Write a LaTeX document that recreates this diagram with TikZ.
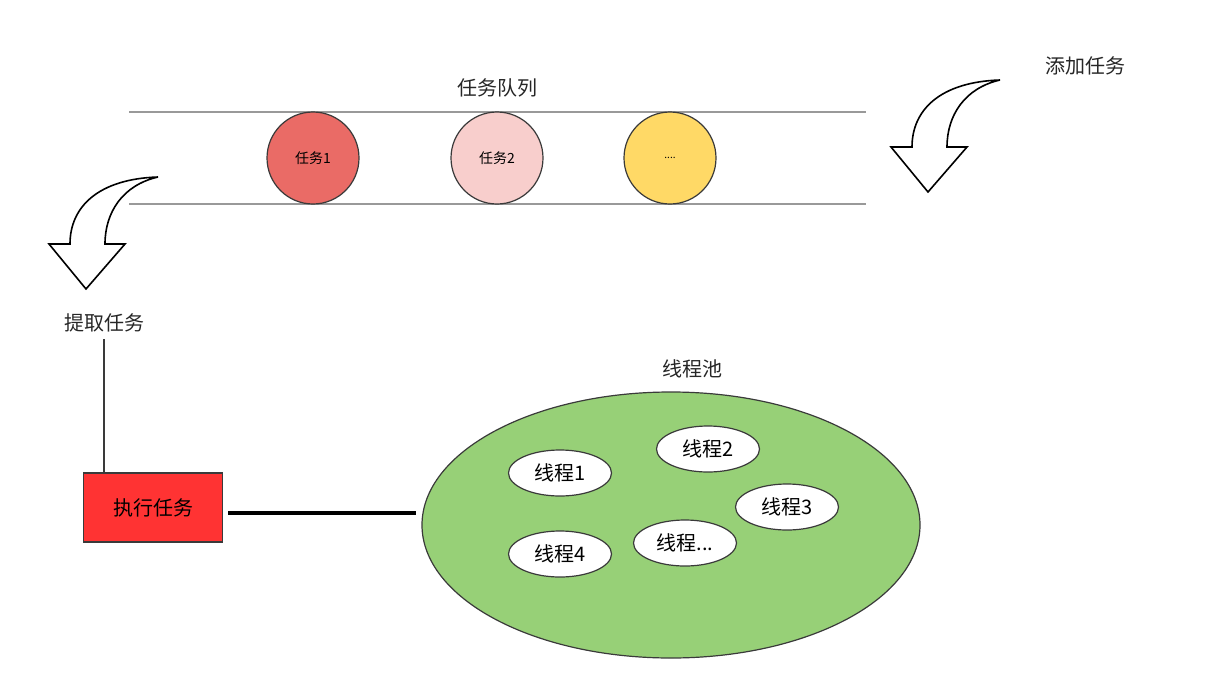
\documentclass[tikz,border=0pt]{standalone}
\usepackage{fontspec}
\setmainfont{Noto Sans CJK SC}
\usetikzlibrary{shapes.geometric}
\definecolor{taskred}{HTML}{EA6B66}
\definecolor{taskpink}{HTML}{F8CECC}
\definecolor{taskyellow}{HTML}{FFD966}
\definecolor{execred}{HTML}{FF3333}
\definecolor{poolgreen}{HTML}{97D077}
\definecolor{rail}{HTML}{999999}
\definecolor{edge}{HTML}{3A3A3A}
\tikzset{
		% queue items, pool and threads
		task node/.style={circle,draw=edge,line width=.6pt,minimum size=46pt,inner sep=0,font=\fontsize{7}{8}\selectfont},
		pool node/.style={ellipse,draw=edge,line width=.6pt,fill=poolgreen,minimum width=249pt,minimum height=133pt},
		thread node/.style={ellipse,draw=edge,line width=.6pt,fill=white,minimum width=51.5pt,minimum height=23pt,inner sep=0,font=\fontsize{10}{11}\selectfont},
		exec node/.style={rectangle,draw=edge,line width=.6pt,fill=execred,minimum width=69.5pt,minimum height=34.5pt,font=\fontsize{10}{11}\selectfont},
		caption node/.style={font=\fontsize{10}{11}\selectfont,text=black!85},
		bend arrow/.pic={
			\draw[line width=.8pt,line join=miter,fill=white]
				(0,0) .. controls (-60,2) and (-88,30) .. (-88,67)
				-- (-109,67) -- (-72,112) -- (-33,67) -- (-53,67)
				.. controls (-53,35) and (-35,8) .. (0,0) -- cycle;
		}
	}
\begin{document}
\begin{tikzpicture}[x=0.5pt,y=-0.5pt]
		\useasboundingbox (0,0) rectangle (1215,696);
		% task queue
		\draw[rail,line width=1pt] (129,112) -- (866,112);
		\draw[rail,line width=1pt] (129,204) -- (866,204);
		\node[caption node] (queue) at (497,88) {任务队列};
		\node[task node,fill=taskred] (task1) at (313,158) {任务1};
		\node[task node,fill=taskpink] (task2) at (497,158) {任务2};
		\node[task node,fill=taskyellow,font=\fontsize{5}{6}\selectfont] (task3) at (670,158) {....};
		% add / fetch
		\pic at (1000,80) {bend arrow};
		\node[caption node] (add) at (1085,66) {添加任务};
		\pic at (158,177) {bend arrow};
		\node[caption node] (fetch) at (104,323) {提取任务};
		% execute
		\node[exec node] (exec) at (153,507.5) {执行任务};
		\draw[edge,line width=1pt] (fetch.south) -- (fetch.south |- exec.north);
		% thread pool
		\node[caption node] (poolname) at (692,369) {线程池};
		\node[pool node] (pool) at (671,525) {};
		\node[thread node] (thread1) at (560,473) {线程1};
		\node[thread node] (thread2) at (708,449) {线程2};
		\node[thread node] (thread3) at (787,507) {线程3};
		\node[thread node] (threadx) at (685,543) {线程...};
		\node[thread node] (thread4) at (560,554) {线程4};
		\draw[black,line width=2.25pt,shorten <=2.5pt,shorten >=2.5pt]
			([yshift=-2.75pt]exec.east) -- ([yshift=-2.75pt]exec.east -| pool.west);
	\end{tikzpicture}
\end{document}
